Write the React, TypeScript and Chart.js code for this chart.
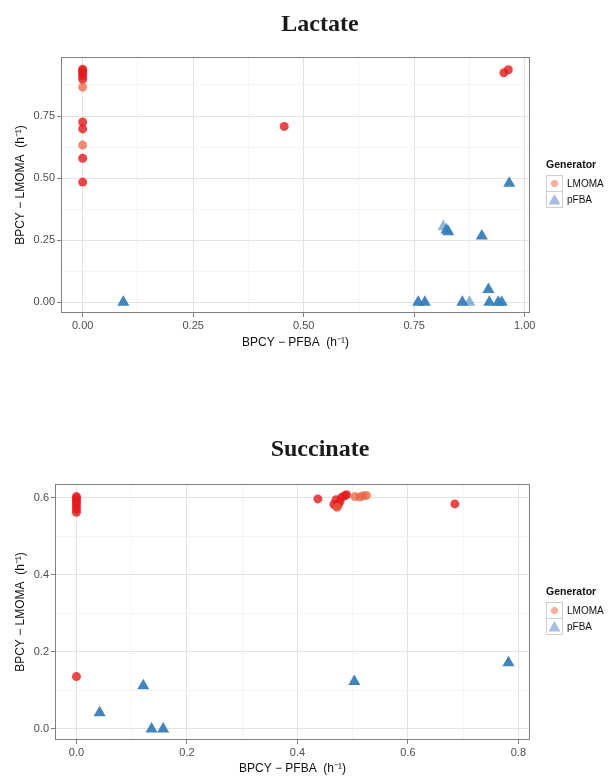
import React, { useEffect, useRef } from "react";
import { Chart, registerables } from "chart.js";
Chart.register(...registerables);

// ---------- Lactate data ----------
const lacLmomaX = [0, 0, 0, 0, 0, 0, 0, 0, 0, 0.456, 0.953, 0.963];
const lacLmomaY = [0.938, 0.932, 0.922, 0.911, 0.898, 0.726, 0.698, 0.58, 0.484, 0.708, 0.924, 0.936];
const lacLmomaLightX = [0, 0];
const lacLmomaLightY = [0.866, 0.633];
const lacPfbaX = [0.092, 0.965, 0.823, 0.827, 0.903, 0.918, 0.759, 0.774, 0.859, 0.92, 0.94, 0.948];
const lacPfbaY = [0.0, 0.479, 0.291, 0.284, 0.267, 0.052, 0.0, 0.0, 0.0, 0.0, 0.0, 0.0];
const lacPfbaLightX = [0.816, 0.875];
const lacPfbaLightY = [0.304, 0.0];
const lacXMajor = [0, 0.25, 0.5, 0.75, 1.0];
const lacXMinor = [0.125, 0.375, 0.625, 0.875];
const lacYMajor = [0, 0.25, 0.5, 0.75];
const lacYMinor = [0.125, 0.375, 0.625, 0.875];

// ---------- Succinate data ----------
const sucLmomaX = [0, 0, 0, 0, 0, 0, 0, 0, 0.437, 0.466, 0.47, 0.471, 0.474, 0.477, 0.48, 0.486, 0.489, 0.685];
const sucLmomaY = [0.603, 0.598, 0.592, 0.585, 0.578, 0.57, 0.562, 0.136, 0.597, 0.583, 0.595, 0.577, 0.582, 0.59, 0.601, 0.605, 0.608, 0.584];
const sucLmomaLightX = [0.472, 0.504, 0.513, 0.519, 0.525];
const sucLmomaLightY = [0.575, 0.603, 0.602, 0.605, 0.606];
const sucPfbaX = [0.042, 0.121, 0.136, 0.157, 0.503, 0.782];
const sucPfbaY = [0.042, 0.112, 0.0, 0.0, 0.123, 0.172];
const sucXMajor = [0, 0.2, 0.4, 0.6, 0.8];
const sucXMinor = [0.1, 0.3, 0.5, 0.7];
const sucYMajor = [0, 0.2, 0.4, 0.6];
const sucYMinor = [0.1, 0.3, 0.5];

const X_TITLE = "BPCY \u2212 PFBA  (h\u207B\u00B9)";
const Y_TITLE = "BPCY \u2212 LMOMA  (h\u207B\u00B9)";
const LEGEND_TITLE = "Generator";
const LEGEND_LABELS = ["LMOMA", "pFBA"];

const RED = "rgba(228,26,28,0.8)";
const RED_LIGHT = "rgba(234,95,62,0.72)";
const BLUE = "rgba(55,126,184,0.95)";
const BLUE_LIGHT = "rgba(55,126,184,0.55)";

const zip = (xs: number[], ys: number[]) => xs.map((x, i) => ({ x, y: ys[i] }));

const panelBorder = {
  id: "panelBorder",
  afterDatasetsDraw(chart: any) {
    const { ctx, chartArea } = chart;
    const l = Math.round(chartArea.left) + 0.5;
    const t = Math.round(chartArea.top) + 0.5;
    const r = Math.round(chartArea.right) - 0.5;
    const b = Math.round(chartArea.bottom) - 0.5;
    ctx.save();
    ctx.strokeStyle = "#808080";
    ctx.lineWidth = 1;
    ctx.strokeRect(l, t, r - l, b - t);
    ctx.restore();
  },
};

function axis(
  min: number,
  max: number,
  major: number[],
  minor: number[],
  digits: number,
  title: string,
  size: number,
  isX: boolean,
  titlePad: any
) {
  const all = [...major, ...minor].sort((a, b) => a - b);
  const isMajor = (v: number) => major.some((m) => Math.abs(m - v) < 1e-9);
  return {
    type: "linear",
    position: isX ? "bottom" : "left",
    min,
    max,
    afterBuildTicks: (s: any) => {
      s.ticks = all.map((v) => ({ value: v }));
    },
    afterFit: (s: any) => {
      if (isX) s.height = size;
      else s.width = size;
    },
    ticks: {
      autoSkip: false,
      maxRotation: 0,
      minRotation: 0,
      padding: 2,
      color: "#4d4d4d",
      font: { family: "'Liberation Sans', Arial, sans-serif", size: 11 },
      callback: (v: any) => (isMajor(Number(v)) ? Number(v).toFixed(digits) : ""),
    },
    grid: {
      color: (c: any) => (c.tick && isMajor(c.tick.value) ? "#E3E3E3" : "#F4F4F4"),
      lineWidth: 1,
      drawTicks: true,
      tickLength: 4,
      tickColor: (c: any) => (c.tick && isMajor(c.tick.value) ? "#808080" : "rgba(0,0,0,0)"),
    },
    border: { display: false },
    title: {
      display: true,
      text: title,
      color: "#111",
      font: { family: "'Liberation Sans', Arial, sans-serif", size: 12 },
      padding: titlePad,
    },
  };
}

function makeChart(canvas: HTMLCanvasElement, spec: any) {
  return new Chart(canvas, {
    type: "scatter",
    data: { datasets: spec.datasets },
    options: {
      responsive: false,
      animation: false,
      events: [],
      layout: { padding: { left: 0, top: spec.padTop, right: 80, bottom: 0 } },
      plugins: { legend: { display: false }, tooltip: { enabled: false }, title: { display: false } },
      scales: {
        x: axis(spec.xMin, spec.xMax, spec.xMajor, spec.xMinor, spec.digits, X_TITLE, spec.xHeight, true, { top: 0, bottom: spec.xTitlePad }),
        y: axis(spec.yMin, spec.yMax, spec.yMajor, spec.yMinor, spec.digits, Y_TITLE, spec.yWidth, false, { top: 13.5, bottom: 0 }),
      },
    } as any,
    plugins: [panelBorder],
  });
}

const circle = (data: any[], color: string) => ({
  data,
  pointStyle: "circle",
  pointRadius: 4.5,
  pointBorderWidth: 0,
  backgroundColor: color,
  borderColor: color,
});
const tri = (data: any[], color: string) => ({
  data,
  pointStyle: "triangle",
  pointRadius: 7,
  pointBorderWidth: 0,
  backgroundColor: color,
  borderColor: color,
});

function Legend({ top }: { top: number }) {
  const box: React.CSSProperties = {
    position: "absolute",
    left: 546,
    width: 17,
    height: 17,
    border: "1px solid #D0D0D0",
    boxSizing: "border-box",
    background: "#fff",
  };
  const label: React.CSSProperties = {
    position: "absolute",
    left: 567,
    font: "10px 'Liberation Sans', Arial, sans-serif",
    color: "#111",
    lineHeight: "17px",
  };
  return (
    <>
      <div
        style={{
          position: "absolute",
          left: 546,
          top: top,
          font: "bold 10.5px 'Liberation Sans', Arial, sans-serif",
          lineHeight: "14px",
          color: "#111",
        }}
      >
        {LEGEND_TITLE}
      </div>
      <div style={{ ...box, top: top + 18 }}>
        <svg width="15" height="15" style={{ position: "absolute", left: 0, top: 0 }}>
          <circle cx="7.5" cy="7.5" r="3.6" fill="rgb(245,175,155)" />
        </svg>
      </div>
      <div style={{ ...label, top: top + 18 }}>{LEGEND_LABELS[0]}</div>
      <div style={{ ...box, top: top + 34 }}>
        <svg width="15" height="15" style={{ position: "absolute", left: 0, top: 0 }}>
          <polygon points="7.5,2 13.5,12.5 1.5,12.5" fill="rgb(168,190,222)" />
        </svg>
      </div>
      <div style={{ ...label, top: top + 34 }}>{LEGEND_LABELS[1]}</div>
    </>
  );
}

export default function App() {
  const c1 = useRef<HTMLCanvasElement>(null);
  const c2 = useRef<HTMLCanvasElement>(null);

  useEffect(() => {
    const ch1 = makeChart(c1.current!, {
      datasets: [
        tri(zip(lacPfbaLightX, lacPfbaLightY), BLUE_LIGHT),
        tri(zip(lacPfbaX, lacPfbaY), BLUE),
        circle(zip(lacLmomaLightX, lacLmomaLightY), RED_LIGHT),
        circle(zip(lacLmomaX, lacLmomaY), RED),
      ],
      padTop: 57,
      xHeight: 75,
      yWidth: 61,
      xTitlePad: 38,
      xMin: -0.049,
      xMax: 1.012,
      yMin: -0.043,
      yMax: 0.9875,
      xMajor: lacXMajor,
      xMinor: lacXMinor,
      yMajor: lacYMajor,
      yMinor: lacYMinor,
      digits: 2,
    });
    const ch2 = makeChart(c2.current!, {
      datasets: [
        tri(zip(sucPfbaX, sucPfbaY), BLUE),
        circle(zip(sucLmomaLightX, sucLmomaLightY), RED_LIGHT),
        circle(zip(sucLmomaX, sucLmomaY), RED),
      ],
      padTop: 96,
      xHeight: 36,
      yWidth: 55,
      xTitlePad: 0,
      xMin: -0.0388,
      xMax: 0.821,
      yMin: -0.0286,
      yMax: 0.6356,
      xMajor: sucXMajor,
      xMinor: sucXMinor,
      yMajor: sucYMajor,
      yMinor: sucYMinor,
      digits: 1,
    });
    return () => {
      ch1.destroy();
      ch2.destroy();
    };
  }, []);

  const titleStyle: React.CSSProperties = {
    position: "absolute",
    left: 220,
    width: 200,
    textAlign: "center",
    font: "bold 24px 'Liberation Serif', 'Times New Roman', serif",
    lineHeight: "24px",
    color: "#1a1a1a",
  };

  return (
    <div style={{ position: "absolute", left: 0, top: 0, width: 610, height: 776, background: "#fff", overflow: "hidden" }}>
      <canvas ref={c1} width={610} height={388} style={{ position: "absolute", left: 0, top: 0, display: "block" }} />
      <canvas ref={c2} width={610} height={388} style={{ position: "absolute", left: 0, top: 388, display: "block" }} />
      <div style={{ ...titleStyle, top: 11 }}>Lactate</div>
      <div style={{ ...titleStyle, top: 436 }}>Succinate</div>
      <Legend top={157} />
      <Legend top={584} />
    </div>
  );
}
